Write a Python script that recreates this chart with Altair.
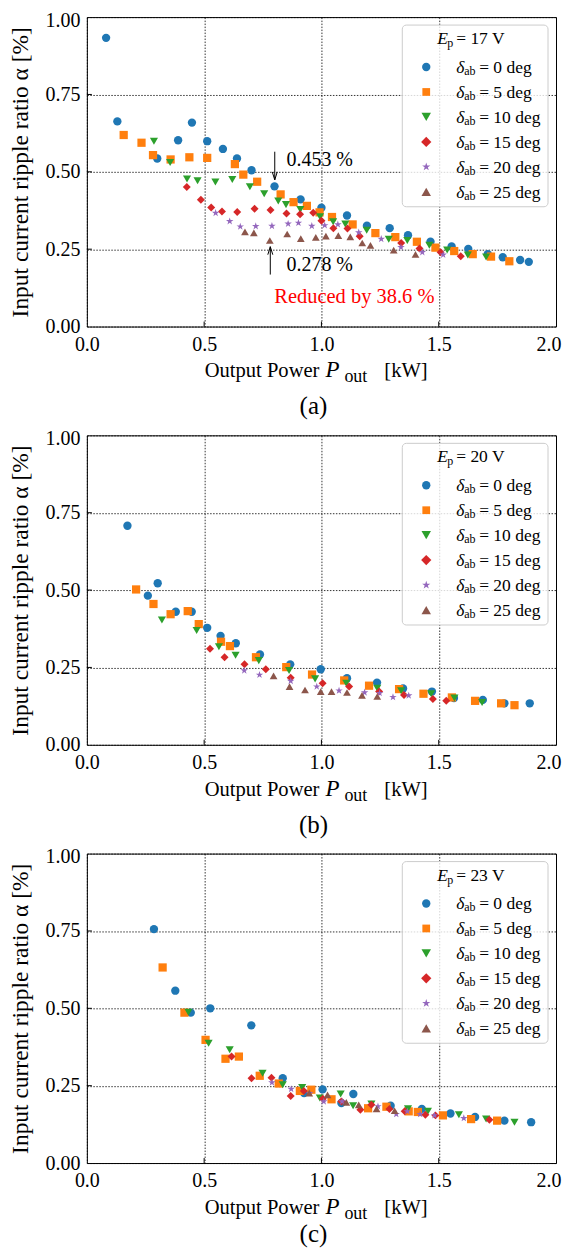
import altair as alt
import pandas as pd

FONT = "Liberation Serif"
DELTAS = ["0", "5", "10", "15", "20", "25"]
COLORS = ["#1f77b4", "#ff7f0e", "#2ca02c", "#d62728", "#9467bd", "#8c564b"]
DIAMOND = "M0,-1L1,0L0,1L-1,0Z"
STAR = ("M0,-1L0.2245,-0.309L0.951,-0.309L0.363,0.118L0.588,0.809L0,0.382"
        "L-0.588,0.809L-0.363,0.118L-0.951,-0.309L-0.2245,-0.309Z")
SHAPES = ["circle", "square", "triangle-down", DIAMOND, STAR, "triangle-up"]
SIZES = [70, 60, 90, 105, 75, 90]

X_TICKS = [0, 0.5, 1.0, 1.5, 2.0]
Y_TICKS = [0, 0.25, 0.5, 0.75, 1.0]

# ---------------- Panel (a): Ep = 17 V ----------------
A_X0 = [0.082, 0.13, 0.30, 0.389, 0.448, 0.513, 0.58, 0.64, 0.702, 0.80, 0.911, 1.0, 1.109, 1.194, 1.291, 1.369, 1.465, 1.555, 1.626, 1.709, 1.773, 1.847, 1.884]
A_Y0 = [0.933, 0.663, 0.543, 0.602, 0.659, 0.599, 0.574, 0.543, 0.505, 0.453, 0.411, 0.384, 0.359, 0.326, 0.318, 0.295, 0.274, 0.259, 0.251, 0.234, 0.224, 0.215, 0.209]
A_X5 = [0.157, 0.233, 0.282, 0.357, 0.437, 0.513, 0.631, 0.667, 0.726, 0.826, 0.881, 0.938, 0.992, 1.045, 1.133, 1.23, 1.315, 1.407, 1.486, 1.566, 1.645, 1.723, 1.801]
A_Y5 = [0.619, 0.594, 0.554, 0.540, 0.547, 0.545, 0.525, 0.491, 0.468, 0.427, 0.402, 0.390, 0.369, 0.354, 0.330, 0.302, 0.289, 0.274, 0.255, 0.244, 0.234, 0.226, 0.211]
A_X10 = [0.286, 0.355, 0.427, 0.472, 0.548, 0.62, 0.695, 0.756, 0.816, 0.849, 0.910, 0.994, 1.05, 1.102, 1.193, 1.287, 1.366, 1.46, 1.536, 1.624, 1.702]
A_Y10 = [0.599, 0.530, 0.477, 0.471, 0.467, 0.475, 0.452, 0.429, 0.406, 0.394, 0.378, 0.355, 0.339, 0.331, 0.311, 0.282, 0.278, 0.263, 0.247, 0.231, 0.225]
A_X15 = [0.426, 0.486, 0.53, 0.576, 0.641, 0.715, 0.783, 0.851, 0.909, 0.965, 1.0, 1.051, 1.111, 1.163, 1.34, 1.418, 1.508, 1.594]
A_Y15 = [0.451, 0.41, 0.385, 0.372, 0.370, 0.381, 0.377, 0.365, 0.363, 0.368, 0.342, 0.318, 0.317, 0.292, 0.27, 0.252, 0.24, 0.227]
A_X20 = [0.549, 0.609, 0.654, 0.72, 0.789, 0.858, 0.902, 0.959, 1.014, 1.07, 1.159, 1.255, 1.339, 1.43, 1.519]
A_Y20 = [0.367, 0.340, 0.323, 0.324, 0.325, 0.332, 0.335, 0.325, 0.327, 0.330, 0.304, 0.283, 0.256, 0.24, 0.232]
A_X25 = [0.674, 0.712, 0.78, 0.854, 0.912, 0.976, 1.019, 1.072, 1.123, 1.174, 1.209, 1.308, 1.401]
A_Y25 = [0.306, 0.303, 0.278, 0.299, 0.284, 0.288, 0.292, 0.294, 0.290, 0.270, 0.262, 0.247, 0.233]

# ---------------- Panel (b): Ep = 20 V ----------------
B_X0 = [0.173, 0.26, 0.302, 0.379, 0.447, 0.513, 0.57, 0.635, 0.738, 0.867, 0.997, 1.109, 1.237, 1.348, 1.471, 1.565, 1.688, 1.78, 1.888]
B_Y0 = [0.708, 0.482, 0.522, 0.43, 0.43, 0.378, 0.352, 0.328, 0.292, 0.26, 0.244, 0.215, 0.201, 0.182, 0.172, 0.151, 0.145, 0.134, 0.134]
B_X5 = [0.21, 0.284, 0.357, 0.43, 0.477, 0.572, 0.61, 0.721, 0.85, 0.96, 1.097, 1.203, 1.331, 1.435, 1.556, 1.655, 1.766, 1.823]
B_Y5 = [0.502, 0.455, 0.422, 0.432, 0.39, 0.333, 0.319, 0.283, 0.251, 0.227, 0.208, 0.191, 0.18, 0.165, 0.153, 0.142, 0.134, 0.128]
B_X10 = [0.32, 0.468, 0.563, 0.634, 0.733, 0.862, 0.973, 1.106, 1.238, 1.34, 1.468, 1.567, 1.685]
B_Y10 = [0.403, 0.369, 0.317, 0.289, 0.272, 0.24, 0.213, 0.199, 0.183, 0.175, 0.165, 0.151, 0.137]
B_X15 = [0.525, 0.587, 0.672, 0.763, 0.869, 1.005, 1.118, 1.246, 1.352, 1.475, 1.532]
B_Y15 = [0.31, 0.283, 0.26, 0.244, 0.217, 0.199, 0.188, 0.172, 0.161, 0.148, 0.142]
B_X20 = [0.671, 0.736, 0.869, 0.98, 1.075, 1.184, 1.248, 1.305, 1.372]
B_Y20 = [0.24, 0.226, 0.206, 0.188, 0.175, 0.169, 0.167, 0.154, 0.159]
B_X25 = [0.796, 0.864, 0.93, 0.997, 1.043, 1.109, 1.173, 1.238]
B_Y25 = [0.223, 0.188, 0.177, 0.172, 0.172, 0.169, 0.16, 0.156]

# ---------------- Panel (c): Ep = 23 V ----------------
C_X0 = [0.286, 0.377, 0.443, 0.526, 0.701, 0.835, 0.926, 1.005, 1.085, 1.136, 1.295, 1.428, 1.55, 1.655, 1.78, 1.894]
C_Y0 = [0.756, 0.557, 0.486, 0.5, 0.445, 0.274, 0.226, 0.238, 0.194, 0.223, 0.185, 0.175, 0.16, 0.149, 0.137, 0.132]
C_X5 = [0.323, 0.416, 0.506, 0.591, 0.648, 0.737, 0.818, 0.908, 0.957, 1.043, 1.199, 1.277, 1.372, 1.411, 1.518, 1.638, 1.749]
C_Y5 = [0.632, 0.486, 0.398, 0.337, 0.344, 0.282, 0.257, 0.233, 0.237, 0.206, 0.177, 0.182, 0.167, 0.165, 0.154, 0.142, 0.137]
C_X10 = [0.433, 0.519, 0.609, 0.749, 0.835, 0.918, 0.993, 1.082, 1.135, 1.213, 1.369, 1.454, 1.586, 1.702, 1.823]
C_Y10 = [0.487, 0.387, 0.366, 0.29, 0.253, 0.244, 0.21, 0.223, 0.185, 0.191, 0.175, 0.167, 0.156, 0.142, 0.132]
C_X15 = [0.617, 0.702, 0.787, 0.869, 0.925, 1.006, 1.085, 1.166, 1.213, 1.29, 1.355, 1.443, 1.486, 1.716]
C_Y15 = [0.344, 0.274, 0.276, 0.217, 0.233, 0.208, 0.199, 0.172, 0.188, 0.175, 0.167, 0.156, 0.154, 0.14]
C_X20 = [0.789, 0.871, 0.95, 1.01, 1.088, 1.241, 1.319, 1.366, 1.421, 1.482, 1.607]
C_Y20 = [0.26, 0.239, 0.226, 0.199, 0.199, 0.183, 0.158, 0.167, 0.158, 0.154, 0.145]
C_X25 = [0.948, 1.026, 1.106, 1.159, 1.235, 1.312]
C_Y25 = [0.226, 0.22, 0.196, 0.188, 0.175, 0.169]

# annotations of panel (a)
ANN_TEXT = ["0.453 %", "0.278 %"]
ANN_X = [0.851, 0.851]
ANN_Y = [0.538, 0.199]
RED_TEXT = "Reduced by 38.6 %"
RED_X, RED_Y = 0.799, 0.097
ARROW_DOWN = (0.801, 0.565, 0.474)   # x, start y, tip y
ARROW_UP = (0.782, 0.168, 0.258)

ONE = pd.DataFrame({"_": [0]})
ARROW_HEAD_DOWN = "M-0.3125,-1L0,0L0.3125,-1"
ARROW_HEAD_UP = "M-0.3125,1L0,0L0.3125,1"


def frame(xs_list, ys_list):
    rows = []
    for k, (d, xs, ys) in enumerate(zip(DELTAS, xs_list, ys_list)):
        for x, y in zip(xs, ys):
            rows.append({"p": x, "a": y, "d": d, "k": k})
    return pd.DataFrame(rows)


def label(text, x, y, size, style="normal", align="left", baseline="alphabetic",
          color="black", font=FONT):
    return alt.Chart(ONE).mark_text(
        text=text, font=font, fontSize=size, fontStyle=style,
        align=align, baseline=baseline, color=color
    ).encode(x=alt.value(x), y=alt.value(y))


X_AXIS = alt.Axis(values=X_TICKS, format=".1f", title=None, grid=True, ticks=False,
                  tickSize=0, domain=False, labelPadding=8, labelFontSize=20,
                  labelFont=FONT, labelColor="black", gridColor="black",
                  gridDash=[1.5, 1.5], gridWidth=0.8, labelFlush=False,
                  labelAlign={"condition": {"test": "datum.value >= 2", "value": "right"},
                              "value": "center"},
                  labelOffset={"condition": {"test": "datum.value >= 2", "value": 5},
                               "value": 0})
Y_AXIS = alt.Axis(values=Y_TICKS, format=".2f", title="Input current ripple ratio α [%]",
                  grid=True, ticks=False, tickSize=0, domain=False, labelPadding=7,
                  labelFontSize=20, labelFont=FONT, labelColor="black",
                  labelOffset={"condition": {"test": "datum.value >= 1", "value": 3},
                               "value": 0},
                  titleFont=FONT, titleFontSize=23.5, titleFontWeight="normal",
                  titleColor="black", titlePadding=9, minExtent=45, maxExtent=45,
                  gridColor="black", gridDash=[1.5, 1.5], gridWidth=0.8, labelFlush=False)
X_SCALE = alt.Scale(domain=[0, 2], nice=False)
Y_SCALE = alt.Scale(domain=[0, 1], nice=False)


def panel(df, ep, caption, caption_y=398, extra=None):
    pts = alt.Chart(df).mark_point(filled=True, opacity=1).encode(
        x=alt.X("p:Q", scale=X_SCALE, axis=X_AXIS),
        y=alt.Y("a:Q", scale=Y_SCALE, axis=Y_AXIS),
        color=alt.Color("d:N", scale=alt.Scale(domain=DELTAS, range=COLORS), legend=None),
        shape=alt.Shape("d:N", scale=alt.Scale(domain=DELTAS, range=SHAPES), legend=None),
        size=alt.Size("d:O", scale=alt.Scale(domain=DELTAS, range=SIZES), legend=None),
        order=alt.Order("k:Q"),
    )
    # short inward tick marks on the bottom and left frame
    xt = alt.Chart(pd.DataFrame({"p": X_TICKS[1:-1]})).mark_rule(
        color="black", strokeWidth=1).encode(
        x=alt.X("p:Q", scale=X_SCALE, axis=X_AXIS), y=alt.value(310), y2=alt.value(305))
    yt = alt.Chart(pd.DataFrame({"a": Y_TICKS[1:-1]})).mark_rule(
        color="black", strokeWidth=1).encode(
        y=alt.Y("a:Q", scale=Y_SCALE, axis=Y_AXIS), x=alt.value(0), x2=alt.value(5))
    layers = [pts, xt, yt]
    if extra:
        layers += extra
    # legend
    layers.append(alt.Chart(ONE).mark_rect(
        cornerRadius=4, fill="white", fillOpacity=0.8, stroke="#cccccc", strokeWidth=1
    ).encode(x=alt.value(316), x2=alt.value(462), y=alt.value(8), y2=alt.value(190)))
    layers += [label("E", 351, 27, 17.5, "italic"), label("p", 361, 30, 12),
               label("= %s V" % ep, 370, 27, 17.5)]
    for i, d in enumerate(DELTAS):
        yc = 50 + 25 * i
        layers.append(alt.Chart(ONE).mark_point(
            filled=True, shape=SHAPES[i], size=SIZES[i], color=COLORS[i], opacity=1
        ).encode(x=alt.value(340), y=alt.value(yc)))
        layers += [label("δ", 370, yc + 6, 17.5, "italic"),
                   label("ab", 378, yc + 8, 12),
                   label("= %s deg" % d, 393, yc + 6, 17.5)]
    # x-axis title with subscript and caption
    layers += [label("Output Power", 233, 361, 20.6, align="right"),
               label("P", 239, 361, 23, "italic"),
               label("out", 258, 366, 18),
               label("[kW]", 298, 361, 20.6),
               label(caption, 227, caption_y, 25, align="center")]
    return alt.layer(*layers).properties(width=470, height=310)


def annotations():
    ann = pd.DataFrame({"t": ANN_TEXT, "p": ANN_X, "a": ANN_Y})
    texts = alt.Chart(ann).mark_text(font=FONT, fontSize=20, align="left",
                                     baseline="middle", color="black").encode(
        x=alt.X("p:Q", scale=X_SCALE, axis=X_AXIS),
        y=alt.Y("a:Q", scale=Y_SCALE, axis=Y_AXIS), text="t:N")
    red = alt.Chart(pd.DataFrame({"t": [RED_TEXT], "p": [RED_X], "a": [RED_Y]})).mark_text(
        font=FONT, fontSize=20.5, align="left", baseline="middle", color="#ff0000").encode(
        x=alt.X("p:Q", scale=X_SCALE, axis=X_AXIS),
        y=alt.Y("a:Q", scale=Y_SCALE, axis=Y_AXIS), text="t:N")
    arr = pd.DataFrame({
        "p": [ARROW_DOWN[0], ARROW_UP[0]],
        "a": [ARROW_DOWN[1], ARROW_UP[1]],
        "a2": [ARROW_DOWN[2], ARROW_UP[2]],
        "head": [ARROW_HEAD_DOWN, ARROW_HEAD_UP],
    })
    shafts = alt.Chart(arr).mark_rule(color="black", strokeWidth=1).encode(
        x=alt.X("p:Q", scale=X_SCALE, axis=X_AXIS),
        y=alt.Y("a:Q", scale=Y_SCALE, axis=Y_AXIS), y2="a2:Q")
    heads = alt.Chart(arr).mark_point(filled=False, color="black", strokeWidth=1,
                                      size=256, opacity=1).encode(
        x=alt.X("p:Q", scale=X_SCALE, axis=X_AXIS),
        y=alt.Y("a2:Q", scale=Y_SCALE, axis=Y_AXIS),
        shape=alt.Shape("head:N", scale=None, legend=None))
    return [shafts, heads, texts, red]


pa = panel(frame([A_X0, A_X5, A_X10, A_X15, A_X20, A_X25],
                 [A_Y0, A_Y5, A_Y10, A_Y15, A_Y20, A_Y25]), "17", "(a)",
           extra=annotations())
pb = panel(frame([B_X0, B_X5, B_X10, B_X15, B_X20, B_X25],
                 [B_Y0, B_Y5, B_Y10, B_Y15, B_Y20, B_Y25]), "20", "(b)")
pc = panel(frame([C_X0, C_X5, C_X10, C_X15, C_X20, C_X25],
                 [C_Y0, C_Y5, C_Y10, C_Y15, C_Y20, C_Y25]), "23", "(c)", caption_y=389)

chart = alt.vconcat(pa, pb, pc, spacing=7).properties(
    padding={"left": 0, "top": 0, "right": 0, "bottom": 0}
).configure_view(stroke="black", strokeWidth=1).configure_axis(
    labelFont=FONT, titleFont=FONT, labelColor="black", titleColor="black"
).configure_text(font=FONT)

chart.save("out.html", embed_options={"renderer": "svg", "actions": False})
